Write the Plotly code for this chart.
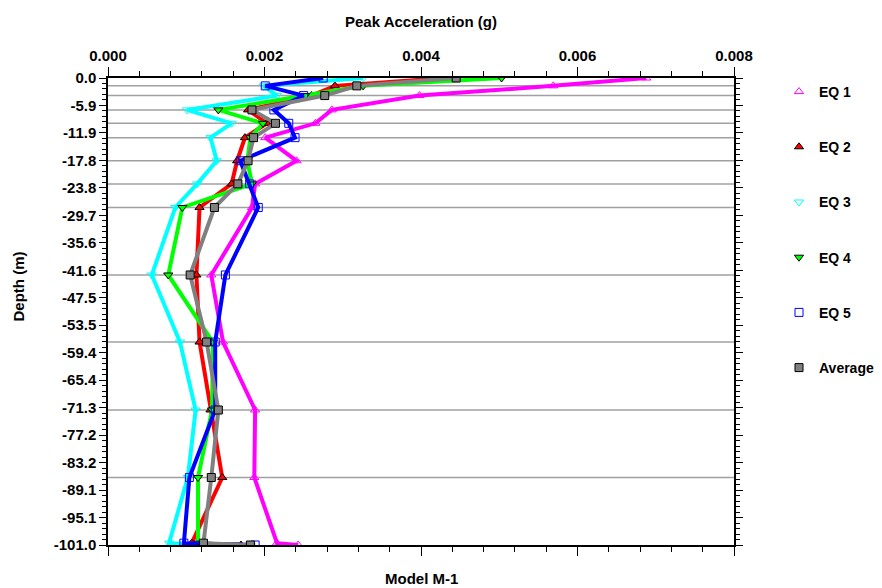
import plotly.graph_objects as go

# ---- data ----
depth = [0, -1.7, -3.8, -6.9, -9.8, -12.9, -17.9, -22.9, -28.0, -42.6, -57.1, -71.8, -86.4, -100.6, -101.0]
eq1 = [0.00688, 0.00569, 0.00398, 0.00286, 0.00265, 0.00201, 0.00241, 0.00188, 0.00184, 0.00132, 0.00147, 0.00188, 0.00187, 0.00216, 0.00243]
eq2 = [0.0043, 0.0029, 0.0026, 0.00179, 0.00203, 0.00175, 0.00165, 0.00158, 0.00117, 0.00113, 0.00117, 0.00131, 0.00146, 0.00107, 0.0017]
eq3 = [0.00326, 0.00199, 0.00216, 0.00101, 0.00158, 0.00131, 0.00139, 0.00114, 0.00086, 0.00056, 0.00092, 0.00112, 0.00102, 0.00078, 0.00144]
eq4 = [0.00503, 0.00326, 0.00252, 0.00141, 0.00198, 0.00182, 0.00178, 0.00184, 0.00095, 0.00077, 0.00134, 0.00133, 0.00115, 0.00115, 0.00165]
eq5 = [0.00275, 0.00201, 0.0025, 0.00212, 0.00231, 0.00239, 0.00169, 0.00181, 0.00192, 0.0015, 0.00137, 0.00137, 0.00104, 0.00097, 0.00188]
avg = [0.00445, 0.00318, 0.00277, 0.00184, 0.00214, 0.00186, 0.00179, 0.00166, 0.00136, 0.00105, 0.00126, 0.00141, 0.00132, 0.00122, 0.00182]

series_names = ["EQ 1", "EQ 2", "EQ 3", "EQ 4", "EQ 5", "Average"]
grid_depths = [-1.7, -3.8, -6.9, -9.8, -12.9, -17.9, -22.9, -28.0, -42.6, -57.1, -71.8, -86.4]
x_tickvals = [0.000, 0.002, 0.004, 0.006, 0.008]
y_tickvals = [-101.0 * k / 17 for k in range(18)]
y_ticktext = ["%.1f" % v if abs(v) > 1e-9 else "0.0" for v in y_tickvals]

# ---- styles ----
FONT = "Liberation Sans, Arial, sans-serif"
FS = 15
styles = [
    dict(color="#ff00ff", symbol="triangle-up-open", mfill="#ff00ff", mline="#ff00ff"),
    dict(color="#ff0000", symbol="triangle-up", mfill="#ff0000", mline="#000000"),
    dict(color="#00ffff", symbol="triangle-down-open", mfill="#00ffff", mline="#00ffff"),
    dict(color="#00ff00", symbol="triangle-down", mfill="#00ff00", mline="#000000"),
    dict(color="#0000ff", symbol="square-open", mfill="#0000ff", mline="#0000ff"),
    dict(color="#808080", symbol="square", mfill="#808080", mline="#000000"),
]

fig = go.Figure()
all_series = [eq1, eq2, eq3, eq4, eq5, avg]
for name, xs, st in zip(series_names, all_series, styles):
    fig.add_trace(go.Scatter(
        x=xs, y=depth, mode="lines+markers", name=name, showlegend=False,
        line=dict(color=st["color"], width=4),
        marker=dict(symbol=st["symbol"], size=8, color=st["mfill"],
                    line=dict(color=st["mline"], width=1)),
    ))
# legend entries (markers only)
for i, (name, st) in enumerate(zip(series_names, styles)):
    fig.add_trace(go.Scatter(
        x=[None], y=[None], mode="markers", name=name, legendgroup="g%d" % i,
        marker=dict(symbol=st["symbol"], size=8, color=st["mfill"],
                    line=dict(color=st["mline"], width=1)),
    ))

shapes = [dict(type="line", xref="paper", x0=0, x1=1, yref="y", y0=d, y1=d,
               line=dict(color="#a0a0a0", width=1.5), layer="below")
          for d in grid_depths]

fig.update_layout(
    width=882, height=588,
    margin=dict(l=107.5, r=147.5, t=78, b=43, autoexpand=False),
    paper_bgcolor="white", plot_bgcolor="white",
    font=dict(family=FONT, size=FS, color="black"),
    showlegend=True,
    legend=dict(xref="container", yref="container", x=779 / 882, y=1 - 76 / 588,
                xanchor="left", yanchor="top", maxheight=1,
                font=dict(family=FONT, size=14, color="black", weight="bold"),
                tracegroupgap=34, bgcolor="rgba(0,0,0,0)", itemwidth=30),
    shapes=shapes,
    xaxis=dict(side="top", range=[0, 0.008], tickvals=x_tickvals, tickformat=".3f",
               ticks="outside", ticklen=9, tickwidth=1, tickcolor="black",
               minor=dict(dtick=0.0004, ticks="outside", ticklen=5, tickcolor="black", showgrid=False),
               showline=True, linecolor="black", linewidth=1.5, mirror="ticks",
               showgrid=False, zeroline=False,
               tickfont=dict(family=FONT, size=FS, weight="bold")),
    yaxis=dict(range=[-101, 0], tickvals=y_tickvals, ticktext=y_ticktext,
               ticks="outside", ticklen=7, tickwidth=1, tickcolor="black",
               minor=dict(dtick=101.0 / 17 / 5, tick0=0, ticks="outside", ticklen=4, tickcolor="black", showgrid=False),
               showline=True, linecolor="black", linewidth=1.5, mirror="ticks",
               showgrid=False, zeroline=False,
               tickfont=dict(family=FONT, size=FS, weight="bold")),
    annotations=[
        dict(text="<b>Peak Acceleration (g)</b>", xref="paper", yref="paper",
             x=0.5, y=1.0, yshift=57, showarrow=False, xanchor="center", yanchor="middle",
             font=dict(family=FONT, size=FS)),
        dict(text="<b>Model M-1</b>", xref="paper", yref="paper",
             x=0.5, y=0.0, yshift=-33, showarrow=False, xanchor="center", yanchor="middle",
             font=dict(family=FONT, size=FS)),
        dict(text="<b>Depth (m)</b>", xref="paper", yref="paper",
             x=0.0, xshift=-90, y=0.5, yshift=25, showarrow=False, textangle=-90,
             xanchor="center", yanchor="middle", font=dict(family=FONT, size=FS)),
    ],
)

fig.write_html("out.html")
